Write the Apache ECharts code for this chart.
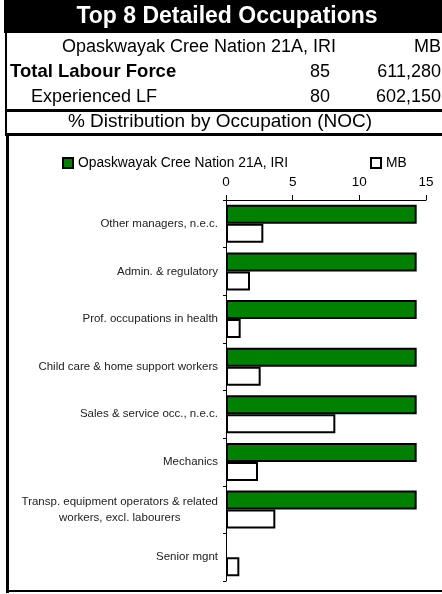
<!DOCTYPE html>
<html>
<head>
<meta charset="utf-8">
<script src="https://cdn.jsdelivr.net/npm/echarts@6/dist/echarts.min.js"></script>
<style>
html,body{margin:0;padding:0;background:#fff;}
#chart{width:442px;height:594px;}
</style>
</head>
<body>
<div id="chart"></div>
<script>
// ---- data ----
const titleText = 'Top 8 Detailed Occupations';
const regionName = 'Opaskwayak Cree Nation 21A, IRI';
const compareName = 'MB';
const totalLabourForce = [85, 611280];
const experiencedLF = [80, 602150];
const subTitle = '% Distribution by Occupation (NOC)';
const categories = [
  'Other managers, n.e.c.',
  'Admin. & regulatory',
  'Prof. occupations in health',
  'Child care & home support workers',
  'Sales & service occ., n.e.c.',
  'Mechanics',
  'Transp. equipment operators & related\nworkers, excl. labourers',
  'Senior mgnt'
];
const regionValues = [14.3, 14.3, 14.3, 14.3, 14.3, 14.3, 14.3, 0];
const mbValues = [2.8, 1.8, 1.1, 2.6, 8.2, 2.4, 3.7, 1.0];
const axisMin = 0, axisMax = 15, axisInterval = 5;

const fmt = n => n.toLocaleString('en-US');
const FONT = "'Liberation Sans', Arial, sans-serif";
// zero-length bars get no outline
const asBarData = arr => arr.map(v => v === 0 ? {value: v, itemStyle: {borderWidth: 0}} : v);

const chart = echarts.init(document.getElementById('chart'), null, {renderer: 'canvas'});

const option = {
  backgroundColor: '#fff',
  animation: false,
  textStyle: {fontFamily: FONT},
  legend: [
    {
      data: [regionName], left: 57, top: 151, itemWidth: 10, itemHeight: 10,
      icon: 'rect', textStyle: {fontFamily: FONT, fontSize: 13.8, color: '#000'},
      selectedMode: false
    },
    {
      data: [compareName], left: 365, top: 151, itemWidth: 10, itemHeight: 10,
      icon: 'rect', textStyle: {fontFamily: FONT, fontSize: 13.8, color: '#000'},
      selectedMode: false
    }
  ],
  grid: {left: 226, right: 16, top: 200, bottom: 13, containLabel: false},
  xAxis: {
    type: 'value', position: 'top', min: axisMin, max: axisMax, interval: axisInterval,
    axisLine: {show: true, lineStyle: {color: '#000', width: 1}},
    axisTick: {show: true, length: 5, lineStyle: {color: '#000'}},
    axisLabel: {fontFamily: FONT, fontSize: 13.5, color: '#000', margin: 11},
    splitLine: {show: false}
  },
  yAxis: {
    type: 'category', data: categories, inverse: true,
    axisLine: {show: true, lineStyle: {color: '#000', width: 1}},
    axisTick: {show: true, length: 3, lineStyle: {color: '#000'}},
    axisLabel: {
      fontFamily: FONT, fontSize: 11.5, color: '#222', margin: 8, lineHeight: 16,
      formatter: v => v.indexOf('\n') >= 0 ? v.split('\n').map(s => '{c|' + s + '}').join('\n') : v,
      rich: {c: {align: 'center', fontFamily: FONT, fontSize: 11.5, color: '#222', lineHeight: 16}}
    },
    splitLine: {show: false}
  },
  series: [
    {
      name: regionName, type: 'bar', data: asBarData(regionValues), barWidth: 19, barGap: '0%',
      itemStyle: {color: '#008000', borderColor: '#000', borderWidth: 2}
    },
    {
      name: compareName, type: 'bar', data: asBarData(mbValues), barWidth: 19, barGap: '0%',
      itemStyle: {color: '#fff', borderColor: '#000', borderWidth: 2}
    }
  ],
  graphic: [
    {type: 'rect', shape: {x: 4, y: 0, width: 438, height: 33}, style: {fill: '#000'}},
    {type: 'text', x: 227, y: 17, style: {text: titleText, fill: '#fff', font: 'bold 23px ' + FONT, textAlign: 'center', textVerticalAlign: 'middle'}},
    {type: 'text', x: 199, y: 47, style: {text: regionName, fill: '#000', font: '18px ' + FONT, textAlign: 'center', textVerticalAlign: 'middle'}},
    {type: 'text', x: 441, y: 47, style: {text: compareName, fill: '#000', font: '18px ' + FONT, textAlign: 'right', textVerticalAlign: 'middle'}},
    {type: 'text', x: 10, y: 72, style: {text: 'Total Labour Force', fill: '#000', font: 'bold 18.5px ' + FONT, textAlign: 'left', textVerticalAlign: 'middle'}},
    {type: 'text', x: 330, y: 72, style: {text: fmt(totalLabourForce[0]), fill: '#000', font: '18px ' + FONT, textAlign: 'right', textVerticalAlign: 'middle'}},
    {type: 'text', x: 441, y: 72, style: {text: fmt(totalLabourForce[1]), fill: '#000', font: '18px ' + FONT, textAlign: 'right', textVerticalAlign: 'middle'}},
    {type: 'text', x: 94, y: 97, style: {text: 'Experienced LF', fill: '#000', font: '18px ' + FONT, textAlign: 'center', textVerticalAlign: 'middle'}},
    {type: 'text', x: 330, y: 97, style: {text: fmt(experiencedLF[0]), fill: '#000', font: '18px ' + FONT, textAlign: 'right', textVerticalAlign: 'middle'}},
    {type: 'text', x: 441, y: 97, style: {text: fmt(experiencedLF[1]), fill: '#000', font: '18px ' + FONT, textAlign: 'right', textVerticalAlign: 'middle'}},
    {type: 'rect', shape: {x: 5, y: 109, width: 437, height: 3}, style: {fill: '#000'}},
    {type: 'text', x: 220, y: 122, style: {text: subTitle, fill: '#000', font: '19px ' + FONT, textAlign: 'center', textVerticalAlign: 'middle'}},
    {type: 'rect', shape: {x: 5, y: 133, width: 437, height: 3}, style: {fill: '#000'}},
    {type: 'rect', shape: {x: 5, y: 0, width: 2, height: 135}, style: {fill: '#000'}},
    {type: 'rect', shape: {x: 6, y: 134, width: 3, height: 459}, style: {fill: '#000'}},
    {type: 'rect', shape: {x: 6, y: 590, width: 436, height: 2}, style: {fill: '#000'}}
  ]
};
chart.setOption(option);
</script>
</body>
</html>
